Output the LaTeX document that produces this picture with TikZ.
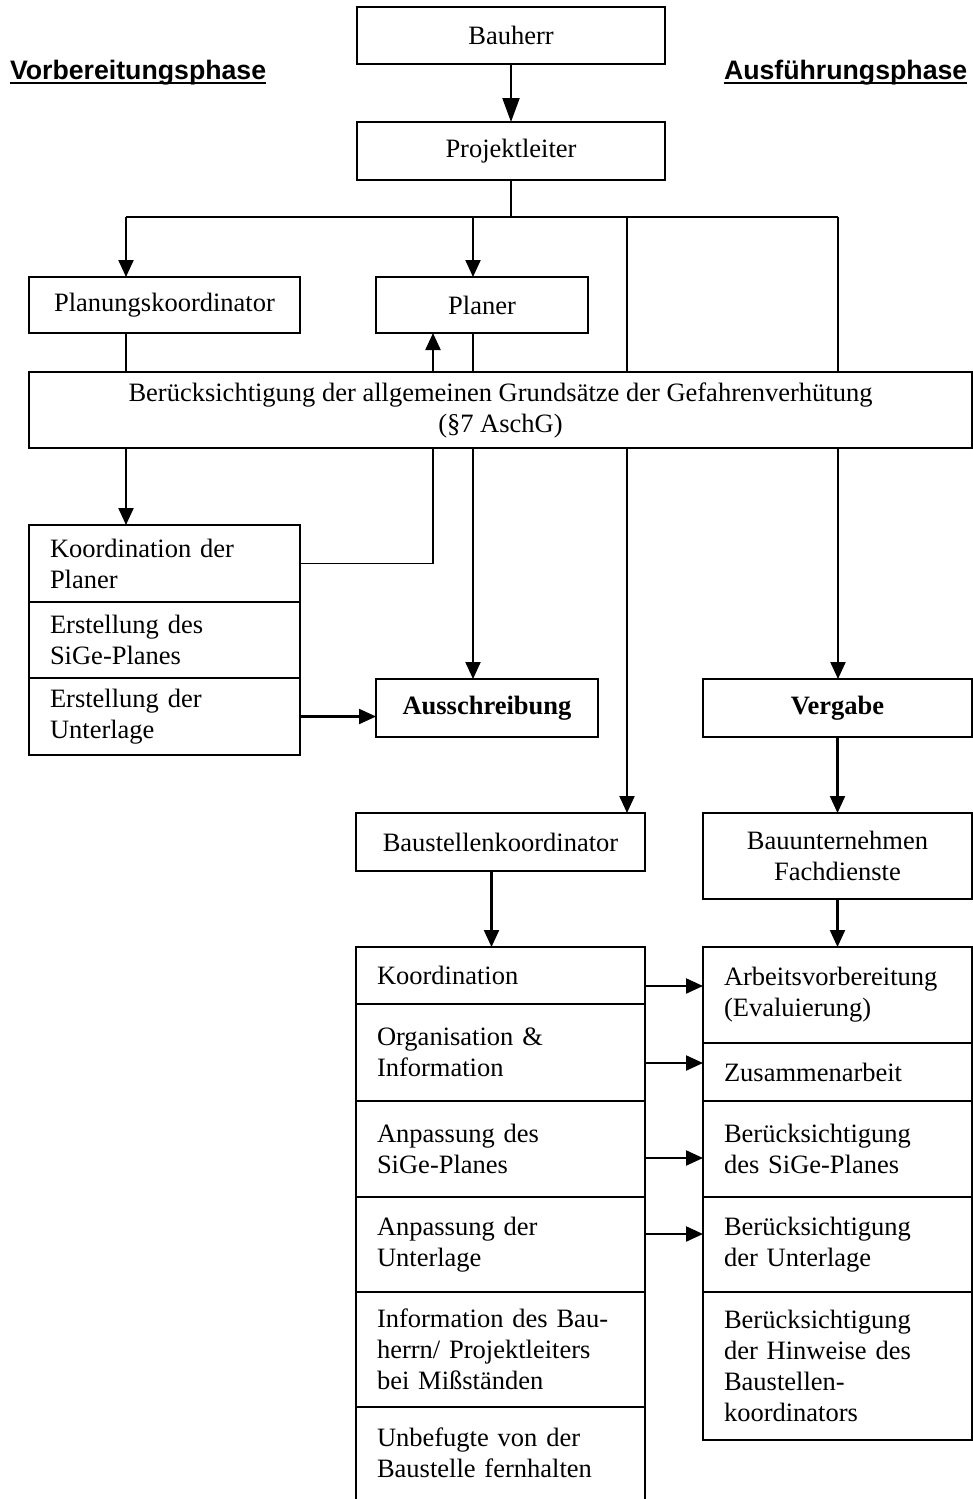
\documentclass[tikz,border=0pt]{standalone}
\usepackage{fontspec}
\setmainfont{Liberation Serif}
\newfontfamily\headfont{Liberation Sans}
\usepackage{tikz}
\usetikzlibrary{positioning}
\usetikzlibrary{arrows.meta}
\newcommand{\boxfont}{\fontsize{26.5pt}{31pt}\selectfont}

\begin{document}
\begin{tikzpicture}[x=1pt, y=-1pt, every node/.style={font=\boxfont, inner sep=0pt, outer sep=0pt}, box/.style={draw, line width=1.6pt, align=center}, cell/.style={draw, line width=1.6pt, anchor=north west, align=left, inner xsep=21pt}, head/.style={font=\headfont\bfseries\fontsize{26.7pt}{31pt}\selectfont, anchor=base west}, uline/.style={line width=2.6pt}, arr/.style={line width=2.2pt, -{Triangle[length=17pt,width=15pt]}}, link/.style={line width=1.3pt}]
  \useasboundingbox (0,0) rectangle (973,1499);

  \node[head] (vorb) at (10,79) {Vorbereitungsphase};
  \node[head] (ausf) at (724,79) {Ausführungsphase};
  \draw[uline] ([yshift=-4pt]vorb.base west) -- ([yshift=-4pt]vorb.base east);
  \draw[uline] ([yshift=-4pt]ausf.base west) -- ([yshift=-4pt]ausf.base east);

  \node[box, minimum width=308pt, minimum height=57pt] (bauherr) at (511,35.5) {Bauherr};
  \node[box, minimum width=308pt, minimum height=58pt] (pleiter) at (511,151) {Projektleiter};
  \node[box, minimum width=271pt, minimum height=56pt] (plko) at (164.5,305) {Planungskoordinator};
  \node[box, minimum width=212pt, minimum height=56pt] (planer) at (482,305) {Planer};
  \node[box, minimum width=943pt, minimum height=76pt] (gefahr) at (500.5,410) {Berücksichtigung der allgemeinen Grundsätze der Gefahrenverhütung\\(§7 AschG)};

  \node[cell, text width=229pt, minimum height=77pt] (kdp) at (29,525) {Koordination der\\Planer};
  \node[cell, text width=229pt, minimum height=76pt, below=0pt of kdp] (esp) {Erstellung des\\SiGe-Planes};
  \node[cell, text width=229pt, minimum height=77pt, below=0pt of esp] (edu) {Erstellung der\\Unterlage};

  \node[box, font=\boxfont\bfseries, minimum width=222pt, minimum height=58pt] (aus) at (487,708) {Ausschreibung};
  \node[box, font=\boxfont\bfseries, minimum width=269pt, minimum height=58pt] (vergabe) at (837.5,708) {Vergabe};
  \node[box, minimum width=289pt, minimum height=58pt] (bsk) at (500.5,842) {Baustellenkoordinator};
  \node[box, minimum width=269pt, minimum height=86pt] (bun) at (837.5,856) {Bauunternehmen\\Fachdienste};

  \node[cell, text width=247pt, minimum height=57pt] (koord) at (356,947) {Koordination};
  \node[cell, text width=247pt, minimum height=97pt, below=0pt of koord] (orga) {Organisation \&\\Information};
  \node[cell, text width=247pt, minimum height=96pt, below=0pt of orga] (anps) {Anpassung des\\SiGe-Planes};
  \node[cell, text width=247pt, minimum height=95pt, below=0pt of anps] (anpu) {Anpassung der\\Unterlage};
  \node[cell, text width=247pt, minimum height=115pt, below=0pt of anpu] (info) {Information des Bau-\\herrn/ Projektleiters\\bei Mißständen};
  \node[cell, draw=none, text width=247pt, minimum height=92pt, below=0pt of info] (unbef) {Unbefugte von der\\Baustelle fernhalten};
  \draw[line width=1.6pt] (unbef.north west) -- (unbef.south west) (unbef.north east) -- (unbef.south east);

  \node[cell, text width=227pt, minimum height=96pt] (arbv) at (703,947) {Arbeitsvorbereitung\\(Evaluierung)};
  \node[cell, text width=227pt, minimum height=58pt, below=0pt of arbv] (zus) {Zusammenarbeit};
  \node[cell, text width=227pt, minimum height=96pt, below=0pt of zus] (bsige) {Berücksichtigung\\des SiGe-Planes};
  \node[cell, text width=227pt, minimum height=95pt, below=0pt of bsige] (bunt) {Berücksichtigung\\der Unterlage};
  \node[cell, text width=227pt, minimum height=148pt, below=0pt of bunt] (bhin) {Berücksichtigung\\der Hinweise des\\Baustellen-\\koordinators};

  \coordinate (split) at (511,217);
  \coordinate (c1) at (126,217);
  \coordinate (c2) at (473,217);
  \coordinate (c3) at (627,217);
  \coordinate (c4) at (838,217);
  \coordinate (back) at (433,563.5);

  \draw[arr, -{Triangle[length=24pt,width=17pt]}] (bauherr) -- (pleiter);
  \draw[link] (pleiter) -- (split);
  \draw[link] (c1) -- (c4);
  \draw[arr] (c1) -- (c1 |- plko.north);
  \draw[arr] (c2) -- (c2 |- planer.north);
  \draw[link] (c3) -- (c3 |- gefahr.north);
  \draw[link] (c4) -- (c4 |- gefahr.north);
  \draw[link] (c1 |- plko.south) -- (c1 |- gefahr.north);
  \draw[link] (c2 |- planer.south) -- (c2 |- gefahr.north);
  \draw[arr] (c1 |- gefahr.south) -- (c1 |- kdp.north);
  \draw[arr] (c2 |- gefahr.south) -- (c2 |- aus.north);
  \draw[arr] (c3 |- gefahr.south) -- (c3 |- bsk.north);
  \draw[arr] (c4 |- gefahr.south) -- (c4 |- vergabe.north);
  \draw[link, line width=1.8pt] (kdp.east) -| (back |- gefahr.south);
  \draw[arr] (back |- gefahr.north) -- (back |- planer.south);
  \draw[arr] (edu.east) -- (edu.east -| aus.west);
  \draw[arr] (vergabe) -- (bun);
  \draw[arr] ([xshift=-9pt]bsk.south) -- ([xshift=-9pt]koord.north);
  \draw[arr] (bun) -- (arbv);

  \draw[arr] ([yshift=-10.5pt]koord.east) -- ([yshift=-10.5pt]koord.east -| arbv.west);
  \draw[arr] ([yshift=-10.5pt]orga.east) -- ([yshift=-10.5pt]orga.east -| zus.west);
  \draw[arr] ([yshift=-9pt]anps.east) -- ([yshift=-9pt]anps.east -| bsige.west);
  \draw[arr] ([yshift=10.5pt]anpu.east) -- ([yshift=10.5pt]anpu.east -| bunt.west);
\end{tikzpicture}
\end{document}
